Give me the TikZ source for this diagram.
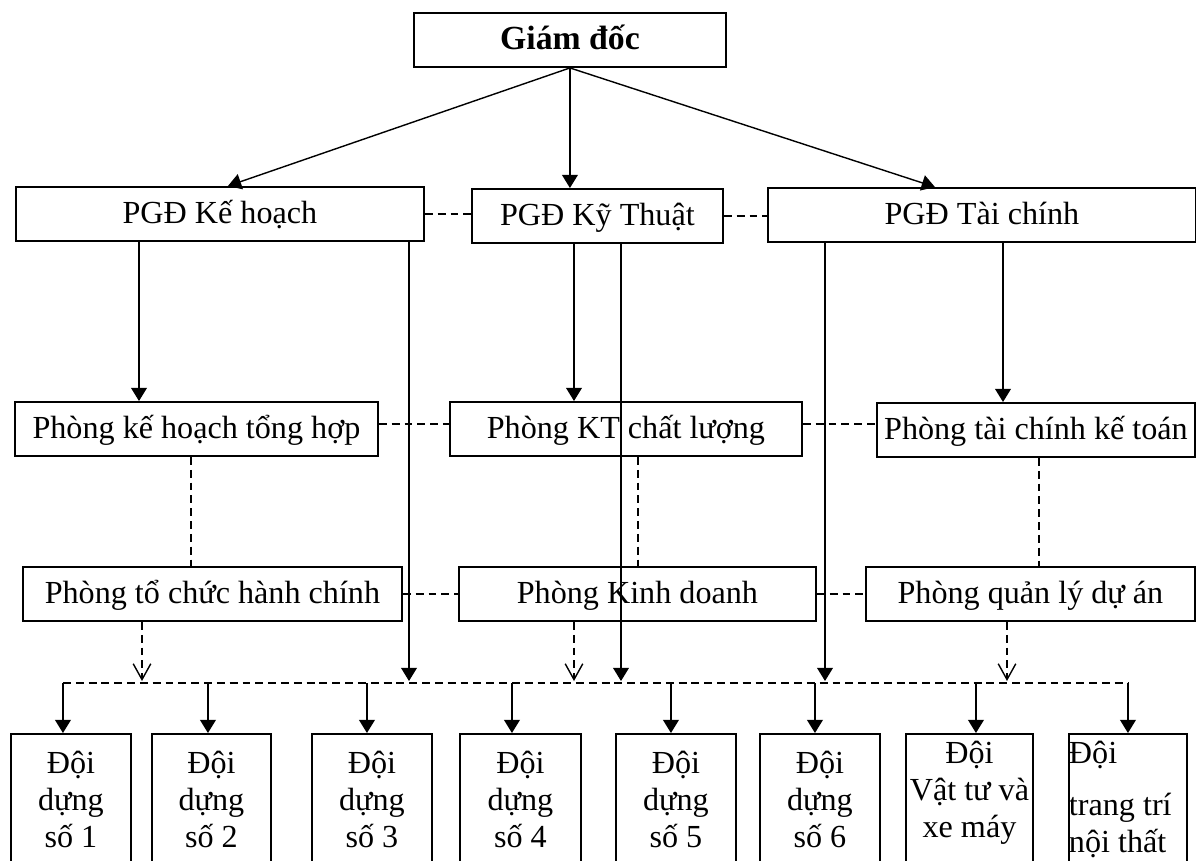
\documentclass[tikz,border=0pt]{standalone}
\usepackage{fontspec}
\setmainfont{Liberation Serif}
\usepackage{tikz}
\usetikzlibrary{arrows.meta}
\usetikzlibrary{positioning}
\newcommand\mybox[4][]{%
  \node[mybox,#1,minimum width=\the\dimexpr#2cm] (#3) {#4};
}
\newcommand\myteam[4][]{%
  \node[myteam,#1,text width=\the\dimexpr#2cm] (#3) {#4};
}

\begin{document}
\begin{tikzpicture}[
x=0.02cm, y=-0.02cm,
font=\fontsize{18.3}{21}\selectfont,
mybox/.style={
  draw,
  rectangle,
  line width=1.1pt,
  anchor=north west,
  inner sep=0pt,
  text height=0.74cm,
  text depth=0.34cm},
myteam/.style={
  draw,
  rectangle,
  line width=1.1pt,
  anchor=north west,
  inner sep=0pt,
  align=flush center,
  text height=0.8cm,
  text depth=2.2cm},
myarrow/.style={line width=0.8pt, -{Triangle[length=7.5pt,width=9pt]}},
dashline/.style={line width=0.8pt, dash pattern=on 4.5pt off 2.8pt},
dasharrow/.style={dashline, -{Straight Barb[length=9pt,width=10pt]}}
]
\useasboundingbox (0,0) rectangle (1196,860);
\clip (0,0) rectangle (1196,860);

\mybox[at={(413,12)}]{6.24}{gd}{\fontsize{19.2}{21}\selectfont\bfseries Giám đốc}
\mybox[at={(15,186)}]{8.16}{kh}{PGĐ Kế hoạch}
\mybox[at={(471,188)}]{5.02}{kt}{PGĐ Kỹ Thuật}
\mybox[at={(767,187)}]{8.56}{tc}{PGĐ Tài chính}

\mybox[at={(14,401)}]{7.26}{p1}{Phòng kế hoạch tổng hợp}
\mybox[at={(449,401)}]{7.04}{p2}{Phòng KT chất lượng}
\mybox[at={(876,402)}]{6.36}{p3}{Phòng tài chính kế toán}

\mybox[at={(22,566)}]{7.58}{q1}{Phòng tổ chức hành chính}
\mybox[at={(458,566)}]{7.14}{q2}{Phòng Kinh doanh}
\mybox[at={(865,566)}]{6.58}{q3}{Phòng quản lý dự án}

\foreach \n/\x/\w in {1/10/2.4, 2/151/2.38, 3/311/2.4, 4/459/2.42, 5/615/2.4, 6/759/2.4}
  \myteam[at={(\x,733)}]{\w}{d\n}{Đội\\dựng\\số \n};
\myteam[at={(905,733)},text height=0.6cm,text depth=2.4cm]{2.54}{d7}{Đội\\Vật tư và\\xe máy}
\myteam[at={(1068,733)},text height=0.6cm,text depth=2.4cm,align=flush left]{2.36}{d8}{Đội\\[0.3cm]trang trí\\nội thất}

\coordinate (bus) at (0,681);
\path (kh.south west) ++(124,0) coordinate (kh1);
\path (kh.south west) ++(394,0) coordinate (kh2);
\path (kt.south west) ++(103,0) coordinate (kt1);
\path (kt.south west) ++(150,0) coordinate (kt2);
\path (tc.south west) ++(58,0) coordinate (tc1);
\path (tc.south west) ++(236,0) coordinate (tc2);
\path (p1.south west) ++(177,0) coordinate (p1d);
\path (p2.south west) ++(189,0) coordinate (p2d);
\path (p3.south west) ++(163,0) coordinate (p3d);
\path (q1.south west) ++(120,0) coordinate (q1a);
\path (q2.south west) ++(116,0) coordinate (q2a);
\path (q3.south west) ++(142,0) coordinate (q3a);

\draw[myarrow] (gd.south) -- ([xshift=0.16cm]kh.north);
\draw[myarrow] (gd.south) -- (gd.south |- kt.north);
\draw[myarrow] (gd.south) -- ([xshift=-0.94cm]tc.north);

\draw[dashline] (kh.east) -- (kh.east -| kt.west);
\draw[dashline] (kt.east) -- (kt.east -| tc.west);
\draw[dashline] ([yshift=0.1cm]p1.east) -- ([yshift=0.1cm]p1.east -| p2.west);
\draw[dashline] ([yshift=0.1cm]p2.east) -- ([yshift=0.1cm]p2.east -| p3.west);
\draw[dashline] (q1.east) -- (q1.east -| q2.west);
\draw[dashline] (q2.east) -- (q2.east -| q3.west);

\draw[myarrow] (kh1) -- (kh1 |- p1.north);
\draw[myarrow] (kh2) -- (kh2 |- bus);
\draw[myarrow] (kt1) -- (kt1 |- p2.north);
\draw[myarrow] (kt2) -- (kt2 |- bus);
\draw[myarrow] (tc1) -- (tc1 |- bus);
\draw[myarrow] (tc2) -- (tc2 |- p3.north);

\draw[dashline] (p1d) -- (p1d |- q1.north);
\draw[dashline] (p2d) -- (p2d |- q2.north);
\draw[dashline] (p3d) -- (p3d |- q3.north);

\draw[dasharrow] (q1a) -- (q1a |- bus);
\draw[dasharrow] (q2a) -- (q2a |- bus);
\draw[dasharrow] (q3a) -- (q3a |- bus);

\foreach \n/\s in {1/-8, 2/-3.5, 3/-5, 4/-8.5, 5/-5, 6/-5, 7/6.5, 8/0} {
  \path (d\n.north) ++(\s,0) coordinate (t\n);
  \draw[myarrow] ([yshift=-0.04cm]t\n |- bus) -- (t\n);
}
\draw[dashline] ([yshift=-0.04cm]t1 |- bus) -- ([yshift=-0.04cm]t8 |- bus);
\end{tikzpicture}
\end{document}
